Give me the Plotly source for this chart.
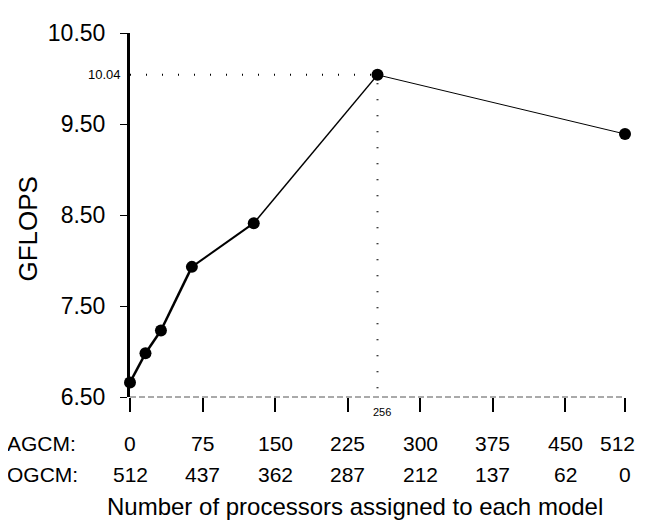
import plotly.graph_objects as go

# ---- data ----
agcm_procs = [0, 16, 32, 64, 128, 256, 512]
gflops = [6.66, 6.98, 7.23, 7.93, 8.41, 10.04, 9.39]
seg_widths = [2.5, 2.5, 2.5, 2.0, 1.5, 1.0]

tick_agcm = [0, 75, 150, 225, 300, 375, 450, 512]
tick_ogcm = [512, 437, 362, 287, 212, 137, 62, 0]
y_ticks = [6.50, 7.50, 8.50, 9.50, 10.50]
peak_x = 256
peak_y = 10.04

FONT = "Liberation Sans, Arial, sans-serif"
fig = go.Figure()

# dotted guide lines to the peak
fig.add_trace(go.Scatter(
    x=[0, peak_x, peak_x], y=[peak_y, peak_y, y_ticks[0]],
    mode="lines", line=dict(color="black", width=2, dash="1px,15px"),
    hoverinfo="skip", showlegend=False, cliponaxis=False))

# line segments of varying width
for i in range(len(agcm_procs) - 1):
    fig.add_trace(go.Scatter(
        x=agcm_procs[i:i + 2], y=gflops[i:i + 2], mode="lines",
        line=dict(color="black", width=seg_widths[i]),
        showlegend=False, cliponaxis=False))

fig.add_trace(go.Scatter(
    x=agcm_procs, y=gflops, mode="markers",
    marker=dict(color="black", size=12, symbol="circle"),
    showlegend=False, cliponaxis=False))

fig.update_xaxes(
    range=[0, 512], showgrid=False, zeroline=False, showline=False,
    tickvals=tick_agcm, ticks="outside", ticklen=14, tickwidth=1.5,
    tickcolor="black", showticklabels=False)
fig.update_yaxes(
    range=[6.5, 10.5], showgrid=False, zeroline=False, showline=True,
    linecolor="black", linewidth=3, tickvals=y_ticks, tickformat=".2f",
    ticks="outside", ticklen=7, tickwidth=1, tickcolor="black",
    ticklabelstandoff=10,
    tickfont=dict(family=FONT, size=23, color="black"))

# dashed x-axis line
fig.add_shape(type="line", xref="paper", yref="paper", x0=0, x1=1, y0=0, y1=0,
              line=dict(color="#555", width=1, dash="6px,3px"))

ROW = 21
ann = []
ann.append(dict(text="AGCM:", x=-0.2525, y=-0.128, xref="paper", yref="paper",
                xanchor="left", yanchor="middle", showarrow=False,
                font=dict(family=FONT, size=ROW, color="black")))
ann.append(dict(text="OGCM:", x=-0.2525, y=-0.213, xref="paper", yref="paper",
                xanchor="left", yanchor="middle", showarrow=False,
                font=dict(family=FONT, size=ROW, color="black")))
for a, o in zip(tick_agcm, tick_ogcm):
    shift = -8 if a == tick_agcm[-1] else 0
    ann.append(dict(text=str(a), x=a, y=-0.128, xref="x", yref="paper",
                    xanchor="center", yanchor="middle", showarrow=False, xshift=shift,
                    font=dict(family=FONT, size=ROW, color="black")))
    ann.append(dict(text=str(o), x=a, y=-0.213, xref="x", yref="paper",
                    xanchor="center", yanchor="middle", showarrow=False,
                    font=dict(family=FONT, size=ROW, color="black")))
ann.append(dict(text=str(peak_x), x=peak_x, y=-0.04, xref="x", yref="paper",
                xanchor="left", yanchor="middle", showarrow=False, xshift=-7,
                font=dict(family=FONT, size=11, color="black")))
ann.append(dict(text=f"{peak_y:.2f}", x=0, y=peak_y, xref="paper", yref="y",
                xanchor="right", yanchor="middle", showarrow=False, xshift=-7,
                font=dict(family=FONT, size=13, color="black")))
ann.append(dict(text="GFLOPS", x=-0.206, y=0.46, xref="paper", yref="paper",
                textangle=-90, xanchor="center", yanchor="middle", showarrow=False,
                font=dict(family=FONT, size=26, color="black")))
ann.append(dict(text="Number of processors assigned to each model", x=0.4545, y=-0.30,
                xref="paper", yref="paper", xanchor="center", yanchor="middle",
                showarrow=False, font=dict(family=FONT, size=24, color="black")))

# page body has an 8px default margin; size the figure to fit inside the window
fig.update_layout(
    width=634, height=512, margin=dict(l=122, r=17, t=13, b=123),
    plot_bgcolor="white", paper_bgcolor="white", annotations=ann)

fig.write_html("out.html")
